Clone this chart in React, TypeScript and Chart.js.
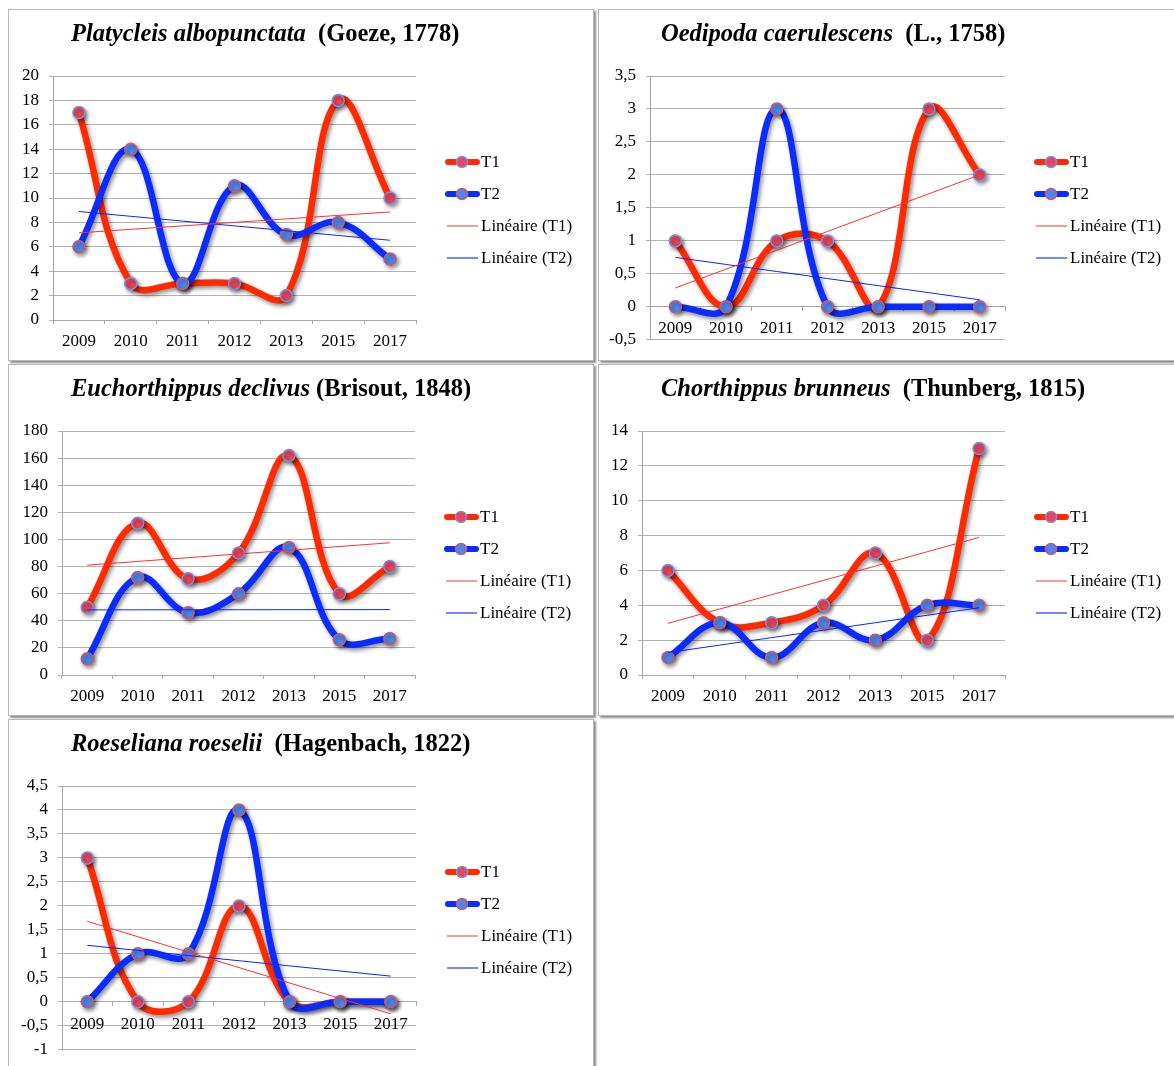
import React, { useEffect, useRef } from 'react';
import { Chart, registerables } from 'chart.js';

Chart.register(...registerables);

// ---------- data ----------
const YEARS = ['2009', '2010', '2011', '2012', '2013', '2015', '2017'];

const PLATY_T1 = [17, 3, 3, 3, 2, 18, 10];
const PLATY_T2 = [6, 14, 3, 11, 7, 8, 5];

const OEDI_T1 = [1, 0, 1, 1, 0, 3, 2];
const OEDI_T2 = [0, 0, 3, 0, 0, 0, 0];

const EUCH_T1 = [50, 112, 71, 90, 162, 60, 80];
const EUCH_T2 = [12, 72, 46, 60, 94, 26, 27];

const CHOR_T1 = [6, 3, 3, 4, 7, 2, 13];
const CHOR_T2 = [1, 3, 1, 3, 2, 4, 4];

const ROES_T1 = [3, 0, 0, 2, 0, 0, 0];
const ROES_T2 = [0, 1, 1, 4, 0, 0, 0];

const SERIES_LABELS = ['T1', 'T2', 'Linéaire (T1)', 'Linéaire (T2)'];

// y axis ranges: [min, max, step]
const PLATY_Y = [0, 20, 2];
const OEDI_Y = [-0.5, 3.5, 0.5];
const EUCH_Y = [0, 180, 20];
const CHOR_Y = [0, 14, 2];
const ROES_Y = [-1, 4.5, 0.5];

// ---------- helpers ----------
function linearTrend(values: number[]): number[] {
  const n = values.length;
  const xs = values.map((_, i) => i + 1);
  const mx = xs.reduce((a, b) => a + b, 0) / n;
  const my = values.reduce((a, b) => a + b, 0) / n;
  let sxy = 0;
  let sxx = 0;
  for (let i = 0; i < n; i++) {
    sxy += (xs[i] - mx) * (values[i] - my);
    sxx += (xs[i] - mx) * (xs[i] - mx);
  }
  const b = sxy / sxx;
  const a = my - b * mx;
  return xs.map((x) => a + b * x);
}

const FONT = '"Liberation Serif", "Times New Roman", serif';

const shadowPlugin = {
  id: 'xlShadow',
  beforeDatasetDraw(chart: any, args: any) {
    const ds = chart.data.datasets[args.index];
    if (ds.shadow) {
      const ctx = chart.ctx;
      ctx.save();
      ctx.shadowColor = 'rgba(0,0,0,0.45)';
      ctx.shadowBlur = 4;
      ctx.shadowOffsetX = 2;
      ctx.shadowOffsetY = 2.5;
    }
  },
  afterDatasetDraw(chart: any, args: any) {
    const ds = chart.data.datasets[args.index];
    if (ds.shadow) chart.ctx.restore();
  },
};

const legendPlugin = {
  id: 'xlLegend',
  afterDraw(chart: any) {
    const ctx = chart.ctx;
    const area = chart.chartArea;
    const x0 = area.right + 29;
    chart.data.datasets.forEach((ds: any, i: number) => {
      const y = 152 + 32 * i;
      ctx.save();
      if (ds.pointRadius > 0) {
        ctx.lineCap = 'round';
        ctx.strokeStyle = ds.borderColor;
        ctx.lineWidth = 6;
        ctx.beginPath();
        ctx.moveTo(x0 + 3, y);
        ctx.lineTo(x0 + 32, y);
        ctx.stroke();
        ctx.beginPath();
        ctx.arc(x0 + 17, y, 5.5, 0, Math.PI * 2);
        ctx.fillStyle = ds.pointBackgroundColor;
        ctx.fill();
        ctx.lineWidth = 1.5;
        ctx.strokeStyle = ds.pointBorderColor;
        ctx.stroke();
      } else {
        ctx.strokeStyle = ds.legendColor;
        ctx.lineWidth = 1.5;
        ctx.beginPath();
        ctx.moveTo(x0 + 2, y);
        ctx.lineTo(x0 + 33, y);
        ctx.stroke();
      }
      ctx.fillStyle = '#000';
      ctx.font = '17px ' + FONT;
      ctx.textBaseline = 'middle';
      ctx.textAlign = 'left';
      ctx.fillText(ds.label, area.right + 65, y + 1);
      ctx.restore();
    });
  },
};

type PanelProps = {
  species: string;
  author: string;
  sep: string;
  left: number;
  top: number;
  width: number;
  t1: number[];
  t2: number[];
  yRange: number[];
  plot: { left: number; right: number; top: number; bottom: number };
  xAtZero: boolean;
};

const PANEL_H = 352;

function Panel(props: PanelProps) {
  const ref = useRef<HTMLCanvasElement | null>(null);
  const cw = props.width - 2;
  const ch = PANEL_H - 2;

  useEffect(() => {
    if (!ref.current) return;
    const { plot, yRange, t1, t2, xAtZero } = props;
    const xAxisH = 40;
    const chart = new Chart(ref.current, {
      type: 'line',
      data: {
        labels: YEARS,
        datasets: [
          {
            label: SERIES_LABELS[0],
            data: t1,
            borderColor: '#ff2a00',
            borderWidth: 6.5,
            tension: 0.4,
            pointRadius: 6,
            pointBackgroundColor: '#e8465c',
            pointBorderColor: '#7d8fd8',
            pointBorderWidth: 1.5,
            order: 2,
            clip: false,
            shadow: true,
          } as any,
          {
            label: SERIES_LABELS[1],
            data: t2,
            borderColor: '#0a2cff',
            borderWidth: 6.5,
            tension: 0.4,
            pointRadius: 6,
            pointBackgroundColor: '#4f86ee',
            pointBorderColor: '#c55a70',
            pointBorderWidth: 1.5,
            order: 1,
            clip: false,
            shadow: true,
          } as any,
          {
            label: SERIES_LABELS[2],
            data: linearTrend(t1),
            borderColor: '#ff2f2f',
            legendColor: '#f57a7a',
            borderWidth: 1,
            pointRadius: 0,
            tension: 0,
            order: 0,
          } as any,
          {
            label: SERIES_LABELS[3],
            data: linearTrend(t2),
            borderColor: '#1020ff',
            legendColor: '#4a5cff',
            borderWidth: 1,
            pointRadius: 0,
            tension: 0,
            order: 0,
          } as any,
        ],
      },
      options: {
        responsive: false,
        animation: false,
        events: [],
        font: { family: FONT, size: 17 },
        layout: {
          padding: {
            left: 0,
            top: plot.top,
            right: cw - plot.right,
            bottom: xAtZero ? ch - plot.bottom : ch - plot.bottom - xAxisH,
          },
        },
        plugins: {
          legend: { display: false },
          title: { display: false },
          tooltip: { enabled: false },
        },
        scales: {
          x: {
            type: 'category',
            position: xAtZero ? ({ y: 0 } as any) : 'bottom',
            offset: true,
            grid: {
              offset: true,
              drawOnChartArea: false,
              drawTicks: true,
              tickLength: 4,
              color: '#a8a8a8',
            },
            border: { color: '#a8a8a8' },
            ticks: {
              padding: xAtZero ? 8 : 7,
              color: '#000',
              font: { family: FONT, size: 17 },
              maxRotation: 0,
              autoSkip: false,
            },
            afterFit: (s: any) => {
              s.height = xAxisH;
            },
          },
          y: {
            min: yRange[0],
            max: yRange[1],
            grid: { color: '#b2b2b2', tickLength: 4, drawTicks: true },
            border: { color: '#a8a8a8' },
            ticks: {
              stepSize: yRange[2],
              padding: 10,
              color: '#000',
              font: { family: FONT, size: 17 },
              callback: (v: any) => String(v).replace('.', ','),
            },
            afterFit: (s: any) => {
              s.width = plot.left;
            },
          },
        },
      } as any,
      plugins: [shadowPlugin, legendPlugin],
    });
    return () => chart.destroy();
  }, []);

  return (
    <div
      style={{
        position: 'absolute',
        left: props.left,
        top: props.top,
        width: props.width,
        height: PANEL_H,
        boxSizing: 'border-box',
        border: '1px solid #b8b8b8',
        background: '#fff',
        boxShadow: '2px 2px 2px rgba(0,0,0,0.45)',
      }}
    >
      <canvas
        ref={ref}
        width={cw}
        height={ch}
        style={{ position: 'absolute', left: 0, top: 0, width: cw, height: ch }}
      />
      <div
        style={{
          position: 'absolute',
          left: 62,
          top: 9,
          font: 'bold 24.5px ' + FONT,
          lineHeight: '28px',
          whiteSpace: 'pre',
          color: '#000',
        }}
      >
        <i>{props.species}</i>
        {props.sep}
        {props.author}
      </div>
    </div>
  );
}

export default function App() {
  return (
    <div
      style={{
        position: 'fixed',
        left: 0,
        top: 0,
        width: 1174,
        height: 1066,
        overflow: 'hidden',
        background: '#fff',
      }}
    >
      <Panel
        species="Platycleis albopunctata"
        sep="  "
        author="(Goeze, 1778)"
        left={8}
        top={9}
        width={586}
        t1={PLATY_T1}
        t2={PLATY_T2}
        yRange={PLATY_Y}
        plot={{ left: 44, right: 407, top: 66, bottom: 310 }}
        xAtZero={false}
      />
      <Panel
        species="Oedipoda caerulescens"
        sep="  "
        author="(L., 1758)"
        left={598}
        top={9}
        width={600}
        t1={OEDI_T1}
        t2={OEDI_T2}
        yRange={OEDI_Y}
        plot={{ left: 51, right: 406, top: 66, bottom: 330 }}
        xAtZero={true}
      />
      <Panel
        species="Euchorthippus declivus"
        sep=" "
        author="(Brisout, 1848)"
        left={8}
        top={364}
        width={586}
        t1={EUCH_T1}
        t2={EUCH_T2}
        yRange={EUCH_Y}
        plot={{ left: 53, right: 406, top: 66, bottom: 310 }}
        xAtZero={false}
      />
      <Panel
        species="Chorthippus brunneus"
        sep="  "
        author="(Thunberg, 1815)"
        left={598}
        top={364}
        width={600}
        t1={CHOR_T1}
        t2={CHOR_T2}
        yRange={CHOR_Y}
        plot={{ left: 43, right: 406, top: 66, bottom: 310 }}
        xAtZero={false}
      />
      <Panel
        species="Roeseliana roeselii"
        sep="  "
        author="(Hagenbach, 1822)"
        left={8}
        top={719}
        width={586}
        t1={ROES_T1}
        t2={ROES_T2}
        yRange={ROES_Y}
        plot={{ left: 53, right: 407, top: 66, bottom: 330 }}
        xAtZero={true}
      />
    </div>
  );
}
